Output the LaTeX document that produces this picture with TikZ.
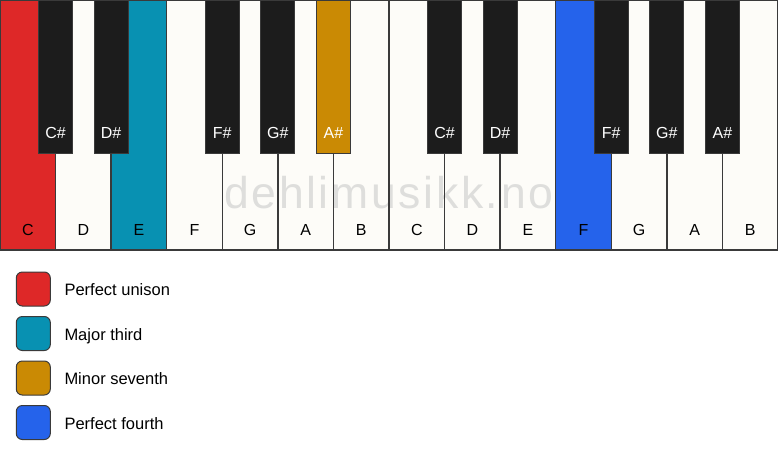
\documentclass[tikz,border=0pt]{standalone}
\usepackage{fontspec}
\setmainfont{Liberation Sans}
\definecolor{keyred}{HTML}{DE2828}
\definecolor{keyteal}{HTML}{0891B2}
\definecolor{keygold}{HTML}{CA8A04}
\definecolor{keyblue}{HTML}{2563EB}
\definecolor{keywhite}{HTML}{FDFCF8}
\definecolor{keyblack}{HTML}{1C1C1C}
\definecolor{keyline}{HTML}{3A3A3A}
\definecolor{wmark}{HTML}{DEDEDC}
\tikzset{
  wkey/.style={rectangle, minimum width=55.571pt, minimum height=250pt, inner sep=0pt, outer sep=0pt},
  keyedge/.style={draw=keyline, line width=1.3pt},
  bkey/.style={rectangle, draw=keyline, line width=1pt, minimum width=34pt, minimum height=153pt, inner sep=0pt, outer sep=0pt},
  wlabel/.style={anchor=base, inner sep=0pt, font=\fontsize{16}{19}\selectfont, text=black},
  blabel/.style={anchor=base, inner sep=0pt, font=\fontsize{16}{19}\selectfont, text=white},
  legbox/.style={rectangle, rounded corners=6pt, draw=keyline, line width=1pt, minimum size=34pt, inner sep=0pt},
  legtext/.style={anchor=base west, inner sep=0pt, font=\fontsize{16.5}{19}\selectfont, text=black},
}
\begin{document}
\begin{tikzpicture}[x=1pt,y=-1pt]
\useasboundingbox (0,0) rectangle (778,461);
\fill[white] (0,0) rectangle (778,461);
% white keys (fills)
\foreach \n/\c [count=\i from 0] in {C/keyred,D/keywhite,E/keyteal,F/keywhite,G/keywhite,A/keywhite,B/keywhite,C/keywhite,D/keywhite,E/keywhite,F/keyblue,G/keywhite,A/keywhite,B/keywhite}{
  \node[wkey, fill=\c] (w\i) at ({(\i+0.5)*55.571},125) {};
}
% watermark
\node[anchor=base west, inner sep=0pt, text=wmark, font=\fontsize{44.5}{50}\selectfont\addfontfeature{LetterSpace=6}] (wm) at (224,208) {dehlimusikk.no};
% white key outlines and labels
\foreach \n [count=\i from 0] in {C,D,E,F,G,A,B,C,D,E,F,G,A,B}{
  \draw[keyedge] (w\i.north west) rectangle (w\i.south east);
  \node[wlabel] (wl\i) at ({(\i+0.5)*55.571},235.7) {\n};
}
% black keys
\foreach \k/\n/\c in {1/C\#/keyblack,2/D\#/keyblack,4/F\#/keyblack,5/G\#/keyblack,6/A\#/keygold,8/C\#/keyblack,9/D\#/keyblack,11/F\#/keyblack,12/G\#/keyblack,13/A\#/keyblack}{
  \node[bkey, fill=\c] (b\k) at ({\k*55.571},76.5) {};
  \node[blabel] (bl\k) at ({\k*55.571},138.7) {\n};
}
% legend
\foreach \c/\t/\y [count=\j] in {keyred/Perfect unison/289,keyteal/Major third/333.5,keygold/Minor seventh/378,keyblue/Perfect fourth/422.5}{
  \node[legbox, fill=\c] (lb\j) at (33.3,\y) {};
  \node[legtext] (lt\j) at (64.3,\y+6.6) {\t};
}
\end{tikzpicture}
\end{document}
